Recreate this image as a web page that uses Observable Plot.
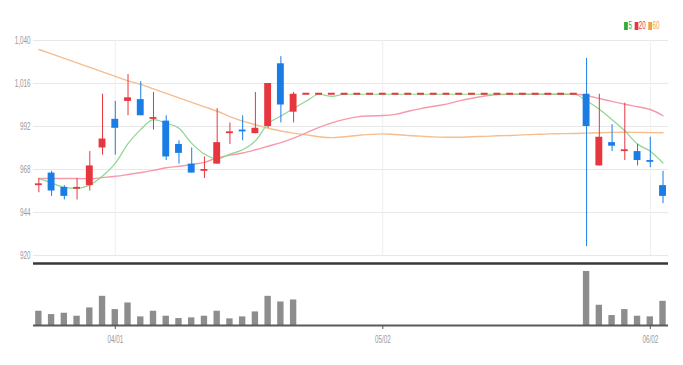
<!DOCTYPE html>
<html><head><meta charset="utf-8">
<script src="https://cdn.jsdelivr.net/npm/d3@7"></script>
<script src="https://cdn.jsdelivr.net/npm/@observablehq/plot@0.6"></script>
<style>
body{margin:0;background:#fff;}
#wrap{position:relative;width:683px;height:365px;overflow:hidden;}
#wrap svg{display:block;}
.legend{position:absolute;top:20px;right:21px;font:10px "Liberation Sans",sans-serif;transform:scaleX(0.62);transform-origin:right top;white-space:nowrap;display:flex;align-items:center;}
.legend .sw{display:inline-block;width:6px;height:8px;margin-right:1px;}
.legend .lb{margin-right:4px;}
</style></head><body><div id="wrap"></div>
<script>
// OHLC per trading day (index 0..49), suspended stretch 21..42
const openP  = [959,966,958,957,959,980,996,1006,1007,996,995,982,971,967,971,988,990,988,992,1027,1000,
  1010,1010,1010,1010,1010,1010,1010,1010,1010,1010,1010,1010,1010,1010,1010,1010,1010,1010,1010,1010,1010,1010,
  1010,970,983,978,978,973,959];
const closeP = [960,956,953,958,970,985,991,1008,998,997,975,977,966,968,983,989,989,991,1016,1004,1010,
  1010,1010,1010,1010,1010,1010,1010,1010,1010,1010,1010,1010,1010,1010,1010,1010,1010,1010,1010,1010,1010,1010,
  992,986,981,979,973,972,953];
const highP  = [963,967,959,963,978,1010,1006,1021,1017,1011,998,984,980,975,1002,994,998,1011,1016,1031,1011,
  1010,1010,1010,1010,1010,1010,1010,1010,1010,1010,1010,1010,1010,1010,1010,1010,1010,1010,1010,1010,1010,1010,
  1030,1010,993,1005,982,986,967];
const lowP   = [955,953,951,951,956,976,976,998,998,990,973,971,966,963,971,982,984,988,991,994,994,
  1010,1010,1010,1010,1010,1010,1010,1010,1010,1010,1010,1010,1010,1010,1010,1010,1010,1010,1010,1010,1010,1010,
  925,970,978,973,970,969,949];
const volume = [43,33,37,28,53,88,48,68,26,43,28,21,23,28,43,20,26,41,88,71,77,
  0,0,0,0,0,0,0,0,0,0,0,0,0,0,0,0,0,0,0,0,0,0,
  163,61,30,48,28,26,73];
const ma5  = [963,960.5,958,957.5,959.4,964.4,971.4,982.4,990.4,995.8,993.8,991,982.6,976.6,973.8,976.6,979,984,993.6,997.8,
  1002,1006.2,1010,1008.8,1010,1010,1010,1010,1010,1010,1010,1010,1010,1010,1010,1010,1010,1010,1010,1010,1010,1010,1010,
  1006.4,1001.6,995.8,989.6,982.2,978.2,971.6];
const ma20 = [963,963,963,963,962.8,963.5,964.2,965.2,966.3,967.5,969,969.8,970.8,972,974.5,976,977.2,979,981,983,
  985.5,988.5,991.5,994,996,997.4,997.9,998.1,998.8,1000.5,1002,1003.3,1004.5,1006.3,1007.8,1009,1009.8,1010,1010,1010,1010,1010,1010,
  1009.3,1007.6,1006,1004.4,1003,1001.5,998];
const ma60 = [1035,1032.5,1030,1027.5,1025,1022.5,1020,1017.5,1015.5,1013,1010.5,1008,1005.5,1003,1000.5,997.5,995,993,991,989.5,
  988.3,987.3,986.3,985.8,986.3,987,987.6,987.9,987.5,987,986.6,986.2,986,986,986.3,986.5,986.8,987,987.3,987.6,
  987.9,988,988.1,988.3,988.5,988.7,988.8,988.7,988.6,988.5];
const yTicks = [920,944,968,992,1016,1040];
const xTicks = [6,27,48];
const xTickLabels = ["04/01","05/02","06/02"];
const legendNames = ["5","20","60"];
const legendColors = ["#2eaa3a","#e8363f","#f0a040"];

const RED = "#e8363f", BLUE = "#1a7de6";
const days = openP.map((o,i)=>({i, o, c:closeP[i], h:highP[i], l:lowP[i], v:volume[i], ma5:ma5[i], ma20:ma20[i], ma60:ma60[i]}));
const col = d => d.c >= d.o ? RED : BLUE;
const xDomain = [-0.42, 49.43];
const labelMap = new Map(xTicks.map((t,k)=>[t, xTickLabels[k]]));

const price = Plot.plot({
  width:683, height:261, marginTop:40, marginBottom:6, marginLeft:33, marginRight:15,
  x:{type:"linear", domain:xDomain, axis:null},
  y:{domain:[920,1040], axis:null},
  style:{fontFamily:"'Liberation Sans',sans-serif", fontSize:"11.5px", color:"#9a9a9a", background:"#fff"},
  marks:[
    Plot.gridY(yTicks, {stroke:"#e8e8e8", strokeOpacity:1}),
    Plot.gridX(xTicks, {stroke:"#eeeeee", strokeOpacity:1}),
    Plot.axisY(yTicks, {tickSize:0, tickPadding:3, tickFormat:d3.format(","), label:null}),
    Plot.line(days, {x:"i", y:"ma60", stroke:"#f6bd8e", strokeWidth:1.4, curve:"monotone-x"}),
    Plot.line(days, {x:"i", y:"ma20", stroke:"#f59aab", strokeWidth:1.4, curve:"monotone-x"}),
    Plot.line(days, {x:"i", y:"ma5", stroke:"#8fd690", strokeWidth:1.2, curve:"monotone-x"}),
    Plot.ruleX(days, {x:"i", y1:"l", y2:"h", stroke:col, strokeWidth:1}),
    Plot.rect(days.filter(d=>d.o!==d.c), {x1:d=>d.i-0.27, x2:d=>d.i+0.27, y1:"o", y2:"c", fill:col}),
    Plot.rect(days.filter(d=>d.o===d.c), {x1:d=>d.i-0.27, x2:d=>d.i+0.27, y1:"o", y2:"c", fill:col, insetTop:-1, insetBottom:-1})
  ]
});

const vol = Plot.plot({
  width:683, height:104, marginTop:2, marginBottom:40, marginLeft:33, marginRight:15,
  x:{type:"linear", domain:xDomain, axis:null},
  y:{domain:[0,187], axis:null},
  style:{fontFamily:"'Liberation Sans',sans-serif", fontSize:"11.5px", color:"#9a9a9a", background:"#fff"},
  marks:[
    Plot.rect(days.filter(d=>d.v>0), {x1:d=>d.i-0.25, x2:d=>d.i+0.25, y1:0, y2:"v", fill:"#8d8d8d"}),
    Plot.ruleY([187], {stroke:"#383838", strokeWidth:2.5}),
    Plot.ruleY([0], {stroke:"#5a5a5a", strokeWidth:2}),
    Plot.axisX(xTicks, {tickSize:4, tickPadding:5, stroke:"#555", tickFormat:d=>labelMap.get(d), label:null})
  ]
});

function squash(svg, k){
  svg.querySelectorAll("text").forEach(t=>{
    const tr = t.getAttribute("transform");
    if (tr) t.setAttribute("transform", tr + ` scale(${k},1)`);
    else {
      const x = +(t.getAttribute("x")||0);
      t.removeAttribute("x");
      t.setAttribute("transform", `translate(${x},0) scale(${k},1)`);
    }
  });
}
squash(price, 0.55);
squash(vol, 0.55);

const wrap = document.getElementById("wrap");
wrap.appendChild(price);
wrap.appendChild(vol);
const lg = document.createElement("div");
lg.className = "legend";
legendNames.forEach((n,k)=>{
  const s = document.createElement("span"); s.className="sw"; s.style.background=legendColors[k];
  const t = document.createElement("span"); t.className="lb"; t.textContent=n; t.style.color=legendColors[k];
  lg.appendChild(s); lg.appendChild(t);
});
wrap.appendChild(lg);
</script></body></html>
